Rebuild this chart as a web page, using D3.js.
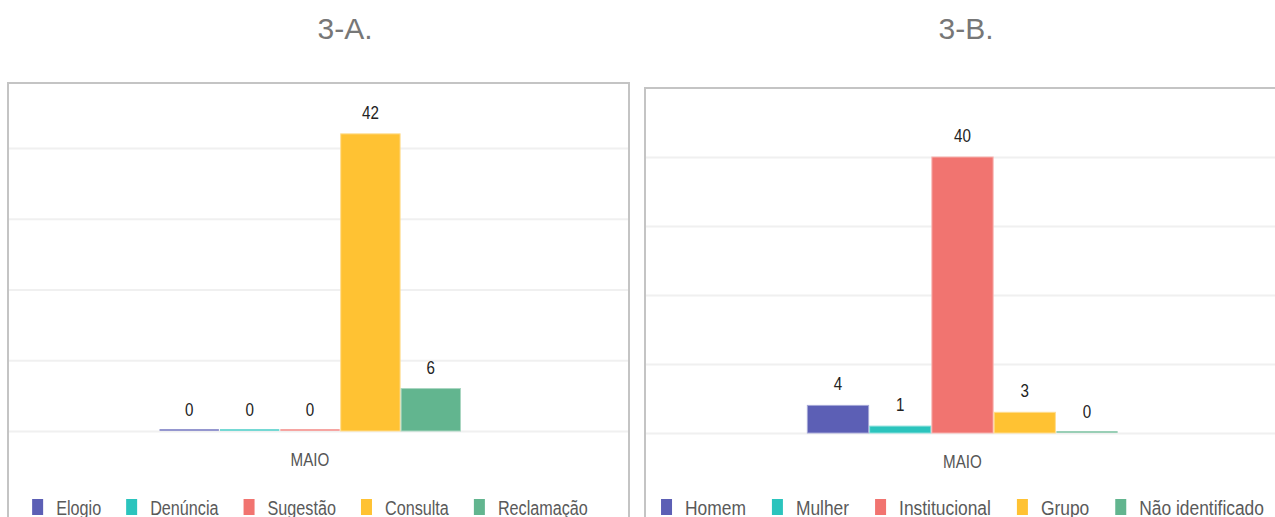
<!DOCTYPE html>
<html><head><meta charset="utf-8">
<script src="https://cdn.jsdelivr.net/npm/d3@7"></script>
<style>
html,body{margin:0;padding:0;background:#fff;overflow:hidden}
svg{display:block}
</style></head>
<body>
<svg id="chart" width="1275" height="517"></svg>
<script>
// ---- data ----
const titles = ["3-A.", "3-B."];
const category = ["MAIO"];
const seriesA = ["Elogio", "Denúncia", "Sugestão", "Consulta", "Reclamação"];
const valuesA = [0, 0, 0, 42, 6];
const seriesB = ["Homem", "Mulher", "Institucional", "Grupo", "Não identificado"];
const valuesB = [4, 1, 40, 3, 0];
const gridTicks = [0, 10, 20, 30, 40];
const palette = ["#5c5fb5", "#2bc4bd", "#f17470", "#ffc233", "#62b58f"];

const svg = d3.select("#chart");
const sans = "'Liberation Sans', Arial, sans-serif";
const SX = 0.82;   // horizontal condensing of chart texts

function panel(cfg) {
  const g = svg.append("g");
  // title
  g.append("text").attr("x", cfg.titleX).attr("y", 39)
    .attr("text-anchor", "middle").attr("font-family", sans)
    .attr("font-size", 30).attr("fill", "#777").text(cfg.title);
  // frame
  g.append("rect").attr("x", cfg.frame[0]).attr("y", cfg.frame[1])
    .attr("width", cfg.frame[2] - cfg.frame[0]).attr("height", 600)
    .attr("fill", "#fff").attr("stroke", "#c4c4c4").attr("stroke-width", 2);

  const y = d3.scaleLinear().domain([0, 40]).range([cfg.base, cfg.top40]);
  const x0 = d3.scaleBand().domain(category).range([cfg.plot[0], cfg.plot[1]]);
  const x1 = d3.scaleBand().domain(cfg.series).range([0, x0.bandwidth()])
    .paddingInner(0).paddingOuter(cfg.outer);

  // grid
  const gridAxis = d3.axisLeft(y).tickValues(gridTicks).tickSize(-(cfg.frame[2] - cfg.frame[0] - 2)).tickFormat("");
  const ga = g.append("g").attr("transform", `translate(${cfg.frame[0] + 1},0)`).call(gridAxis);
  ga.select(".domain").remove();
  ga.selectAll(".tick line").attr("stroke", "#f0f0f0").attr("stroke-width", 2);

  const color = d3.scaleOrdinal().domain(cfg.series).range(palette);
  const data = cfg.series.map((s, i) => ({ s, v: cfg.values[i] }));
  const cat = category[0];
  g.append("g").selectAll("rect").data(data).join("rect")
    .attr("x", d => x0(cat) + x1(d.s) + 0.5)
    .attr("width", x1.bandwidth() - 1)
    .attr("y", d => Math.min(y(d.v), y(0) - 2))
    .attr("height", d => Math.max(y(0) - y(d.v), 2))
    .attr("fill", d => d.v === 0 ? d3.interpolateRgb(color(d.s), "#fff")(0.35) : color(d.s))
    .attr("stroke", d => d3.interpolateRgb(color(d.s), "#fff")(0.45))
    .attr("stroke-width", d => d.v === 0 ? 0 : 1);
  // value labels
  g.append("g").selectAll("text").data(data).join("text")
    .attr("transform", d => `translate(${x0(cat) + x1(d.s) + x1.bandwidth() / 2},${y(d.v) - 15}) scale(${SX},1)`)
    .attr("text-anchor", "middle").attr("font-family", sans)
    .attr("font-size", 18.5).attr("fill", "#222").text(d => d.v);
  // category axis label
  const xa = d3.axisBottom(x0).tickSize(0).tickPadding(0);
  const xg = g.append("g").attr("transform", `translate(0,${cfg.base + 35})`).call(xa);
  xg.select(".domain").remove();
  xg.selectAll("text").attr("font-family", sans).attr("font-size", 18.5).attr("fill", "#555")
    .attr("dy", 0).attr("y", 0).attr("transform", `scale(${SX},1)`);

  // legend
  const SXL = cfg.legendScale;
  const lg = g.append("g").attr("transform", "translate(0,515)");
  const items = lg.selectAll("g").data(cfg.series).join("g");
  items.append("rect").attr("x", 0).attr("y", -16).attr("width", 11).attr("height", 16).attr("fill", d => color(d));
  items.append("text").attr("transform", `translate(24,0) scale(${SXL},1)`).attr("font-family", sans)
    .attr("font-size", 20).attr("fill", "#5a5a5a").text(d => d);
  let pos = 0; const offs = [];
  const gap = cfg.legendGap;
  items.each(function () {
    const w = 24 + this.querySelector("text").getComputedTextLength() * SXL;
    offs.push(pos); pos += w + gap;
  });
  const total = pos - gap;
  const cx = x0(cat) + x0.bandwidth() / 2;
  const start = cx - total / 2;
  items.attr("transform", (d, i) => `translate(${start + offs[i]},0)`);
}

panel({ title: titles[0], titleX: 345, frame: [8, 83, 629], plot: [8, 612], outer: 2.5,
        base: 431, top40: 148, series: seriesA, values: valuesA, legendScale: 0.81, legendGap: 25 });
panel({ title: titles[1], titleX: 966, frame: [645, 88, 1300], plot: [645, 1280], outer: 2.6,
        base: 433, top40: 157, series: seriesB, values: valuesB, legendScale: 0.87, legendGap: 26 });
</script>
</body></html>
